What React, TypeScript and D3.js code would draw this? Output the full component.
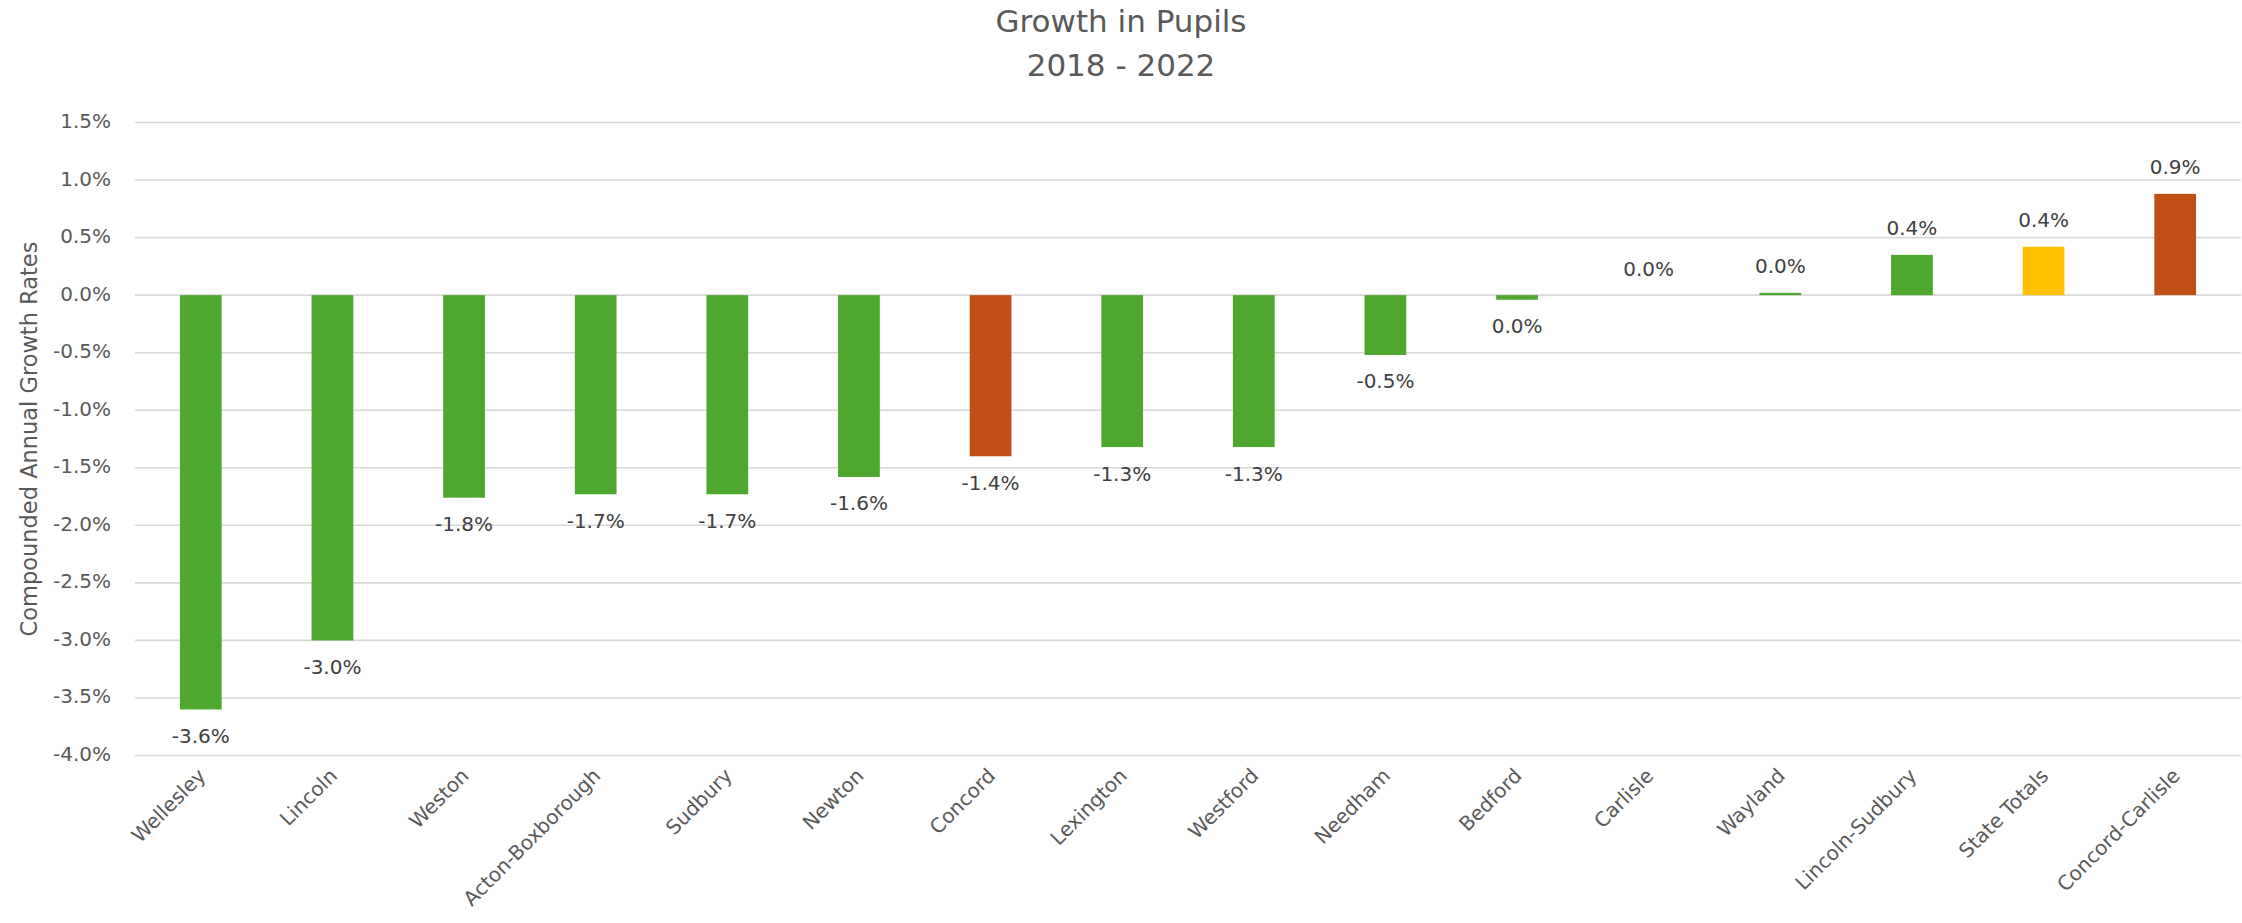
import React from "react";
import * as d3 from "d3";

const categories = [
  "Wellesley", "Lincoln", "Weston", "Acton-Boxborough", "Sudbury", "Newton",
  "Concord", "Lexington", "Westford", "Needham", "Bedford", "Carlisle",
  "Wayland", "Lincoln-Sudbury", "State Totals", "Concord-Carlisle",
];
const values = [
  -3.6, -3.0, -1.76, -1.73, -1.73, -1.58, -1.4, -1.32, -1.32, -0.52, -0.04,
  0.0, 0.02, 0.35, 0.42, 0.88,
];
const groups = [
  "district", "district", "district", "district", "district", "district",
  "concord", "district", "district", "district", "district", "district",
  "district", "district", "state", "concord",
];
const yTicks = [1.5, 1.0, 0.5, 0.0, -0.5, -1.0, -1.5, -2.0, -2.5, -3.0, -3.5, -4.0];
const titleLines = ["Growth in Pupils", "2018 - 2022"];
const yAxisTitle = "Compounded Annual Growth Rates";

const colorMap: Record<string, string> = {
  district: "#4EA72E",
  concord: "#C04F15",
  state: "#FFC000",
};

const W = 2242;
const H = 923;
const FONT = "'DejaVu Sans', sans-serif";

function fmt(v: number): string {
  const r = Math.round(v * 10) / 10;
  const s = Math.abs(r).toFixed(1) + "%";
  return r < 0 ? "-" + s : s;
}

export default function App() {
  const x = d3
    .scaleBand<string>()
    .domain(categories)
    .range([135, 2241])
    .paddingInner(0.683)
    .paddingOuter(0.3415);
  const y = d3.scaleLinear().domain([-4, 1.5]).range([755.5, 122.5]);

  return (
    <svg
      width={W}
      height={H}
      style={{ position: "absolute", left: 0, top: 0, display: "block", background: "#fff" }}
      fontFamily={FONT}
    >
      {titleLines.map((t, i) => (
        <text key={t} x={1121} y={32 + i * 44} textAnchor="middle" fontSize={31} fill="#595959">
          {t}
        </text>
      ))}
      <text
        transform={`translate(37, ${(y(1.5) + y(-4)) / 2}) rotate(-90)`}
        textAnchor="middle"
        fontSize={22.5}
        fill="#595959"
      >
        {yAxisTitle}
      </text>
      {yTicks.map((t) => (
        <g key={t}>
          <line x1={135} x2={2241} y1={y(t)} y2={y(t)} stroke="#d9d9d9" strokeWidth={1.6} />
          <text x={111} y={y(t) + 5.5} textAnchor="end" fontSize={20} fill="#595959">
            {fmt(t)}
          </text>
        </g>
      ))}
      {categories.map((c, i) => {
        const v = values[i];
        const x0 = x(c) as number;
        const bw = x.bandwidth();
        const cx = x0 + bw / 2;
        const top = Math.min(y(v), y(0));
        const h = Math.abs(y(v) - y(0));
        const ly = v >= 0 ? y(v) - 19.5 : y(v) + 33.5;
        return (
          <g key={c}>
            <rect x={x0} y={top} width={bw} height={h} fill={colorMap[groups[i]]} />
            <text x={cx} y={ly} textAnchor="middle" fontSize={20} fill="#404040">
              {fmt(v)}
            </text>
            <text
              transform={`translate(${cx + 6}, 777) rotate(-45)`}
              textAnchor="end"
              fontSize={20}
              fill="#595959"
            >
              {c}
            </text>
          </g>
        );
      })}
    </svg>
  );
}
